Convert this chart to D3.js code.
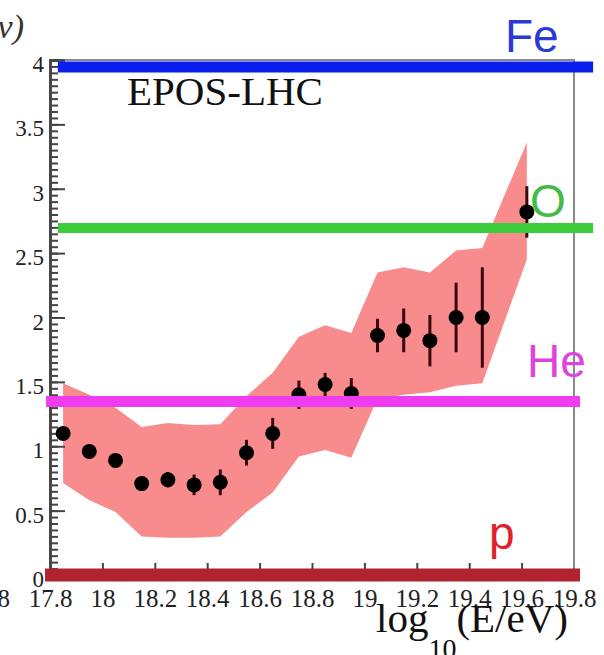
<!DOCTYPE html>
<html>
<head>
<meta charset="utf-8">
<script src="https://cdn.jsdelivr.net/npm/d3@7"></script>
<style>
  html, body { margin: 0; padding: 0; background: #fff; }
  svg { display: block; }
</style>
</head>
<body>
<svg id="chart" width="604" height="655"></svg>
<script>
// log10(E/eV) bin centres
const energy = [17.85, 17.95, 18.05, 18.15, 18.25, 18.35, 18.45, 18.55, 18.65,
                18.75, 18.85, 18.95, 19.05, 19.15, 19.25, 19.35, 19.45, 19.62];
// mean lnA per bin (EPOS-LHC) and statistical error
const lnA = [1.10, 0.96, 0.89, 0.71, 0.74, 0.70, 0.72, 0.95, 1.10,
             1.40, 1.48, 1.41, 1.86, 1.90, 1.82, 2.00, 2.00, 2.82];
const lnAErr = [0.04, 0.04, 0.04, 0.05, 0.06, 0.08, 0.10, 0.10, 0.12,
                0.11, 0.09, 0.12, 0.13, 0.17, 0.20, 0.27, 0.39, 0.20];
// systematic band
const bandHigh = [1.49, 1.40, 1.30, 1.15, 1.18, 1.165, 1.17, 1.39, 1.57,
                  1.85, 1.94, 1.88, 2.35, 2.39, 2.35, 2.52, 2.54, 3.36];
const bandLow = [0.715, 0.58, 0.49, 0.30, 0.29, 0.29, 0.30, 0.49, 0.64,
                 0.92, 0.97, 0.91, 1.37, 1.40, 1.42, 1.47, 1.49, 2.45];

// pure-composition reference lines
const elements = ["Fe", "O", "He", "p"];
const elementLnA = [3.946, 2.695, 1.348, 0.0];
const elementFrom = [17.83, 17.83, 17.785, 17.781];
const elementTo = [19.873, 19.873, 19.823, 19.823];

// axis ticks
const xTicks = [17.8, 18.0, 18.2, 18.4, 18.6, 18.8, 19.0, 19.2, 19.4, 19.6, 19.8];
const yTicks = [0, 0.5, 1, 1.5, 2, 2.5, 3, 3.5, 4];
const yMinorTicks = d3.range(0, 81).map(i => i * 0.05);

const SERIF = '"Liberation Serif"';
const SANS = '"Liberation Sans"';

const svg = d3.select("#chart");
const x = d3.scaleLinear().domain([17.8, 19.8]).range([50, 574]);
const y = d3.scaleLinear().domain([0, 4]).range([575, 60]);

const lineColor = { Fe: "#0b1ef0", O: "#3ccc3c", He: "#ee3cee", p: "#b0232f" };
const lineWidth = { Fe: 11, O: 10, He: 11, p: 13 };
const textColor = { Fe: "#2a3ad8", O: "#44bb44", He: "#dd44dd", p: "#e0202a" };

// systematic band
const rows = energy.map((e, i) => ({ e, hi: bandHigh[i], lo: bandLow[i] }));
svg.append("path")
  .datum(rows)
  .attr("fill", "#f88c8c")
  .attr("d", d3.area().x(d => x(d.e)).y0(d => y(d.lo)).y1(d => y(d.hi)));

// frame
svg.append("rect")
  .attr("x", x(17.8)).attr("y", y(4))
  .attr("width", x(19.8) - x(17.8)).attr("height", y(0) - y(4))
  .attr("fill", "none").attr("stroke", "#8a8a8a").attr("stroke-width", 2);

// y axis: inward minor and major ticks
const yMinor = svg.append("g").attr("transform", `translate(${x(17.8)},0)`)
  .call(d3.axisRight(y).tickValues(yMinorTicks).tickSize(8).tickFormat(""));
const yMajor = svg.append("g").attr("transform", `translate(${x(17.8)},0)`)
  .call(d3.axisRight(y).tickValues(yTicks).tickSize(15).tickFormat(""));
[yMinor, yMajor].forEach(g => {
  g.selectAll("line").attr("stroke", "#444").attr("stroke-width", 2);
  g.select(".domain").attr("stroke", "#444").attr("stroke-width", 2.5);
});
const yLab = svg.append("g").attr("transform", `translate(${x(17.8)},0)`)
  .call(d3.axisLeft(y).tickValues(yTicks).tickSize(0).tickPadding(6).tickFormat(d => String(d)));
yLab.select(".domain").remove();
yLab.selectAll("text").style("font-family", SERIF)
  .style("font-size", "23px").attr("fill", "#222").attr("dy", "0.5em");

// x axis: upward ticks and labels
const xIn = svg.append("g").attr("transform", `translate(0,${y(0)})`)
  .call(d3.axisTop(x).tickValues(xTicks.slice(1, -1)).tickSize(12).tickFormat(""));
xIn.select(".domain").remove();
xIn.selectAll("line").attr("stroke", "#444").attr("stroke-width", 2);
const xLab = svg.append("g").attr("transform", `translate(0,${y(0)})`)
  .call(d3.axisBottom(x).tickValues(xTicks).tickSize(0).tickPadding(14)
    .tickFormat(d => String(+d.toFixed(1))));
xLab.select(".domain").remove();
xLab.selectAll("text").style("font-family", SERIF)
  .style("font-size", "25px").attr("fill", "#222");

// neighbouring panel label at the left edge
svg.append("text").attr("x", 10).attr("y", 607).attr("text-anchor", "end")
  .style("font-family", SERIF).style("font-size", "25px").attr("fill", "#222")
  .text("19.8");
svg.append("text").attr("x", 24).attr("y", 38).attr("text-anchor", "end")
  .style("font-family", SERIF).style("font-style", "italic").style("font-size", "34px")
  .attr("fill", "#333")
  .text("v)");

// axis title
const title = svg.append("text").attr("x", 376).attr("y", 632)
  .style("font-family", SERIF).style("font-size", "41px").attr("fill", "#111");
title.append("tspan").text("log");
title.append("tspan").style("font-size", "28px").attr("dy", 26).text("10");
title.append("tspan").attr("dy", -26).text("(E/eV)");

// data: error bars and markers
const pts = energy.map((e, i) => ({ e, v: lnA[i], err: lnAErr[i] }));
svg.append("g").selectAll("line").data(pts).join("line")
  .attr("x1", d => x(d.e)).attr("x2", d => x(d.e))
  .attr("y1", d => y(d.v - d.err)).attr("y2", d => y(d.v + d.err))
  .attr("stroke", "#3a0610").attr("stroke-width", 3);
svg.append("g").selectAll("circle").data(pts).join("circle")
  .attr("cx", d => x(d.e)).attr("cy", d => y(d.v)).attr("r", 7.5)
  .attr("fill", "#000");

// composition lines
const comp = elements.map((name, i) => ({ name, v: elementLnA[i], a: elementFrom[i], b: elementTo[i] }));
svg.append("g").selectAll("line").data(comp).join("line")
  .attr("x1", d => x(d.a)).attr("x2", d => x(d.b))
  .attr("y1", d => y(d.v)).attr("y2", d => y(d.v))
  .attr("stroke", d => lineColor[d.name]).attr("stroke-width", d => lineWidth[d.name]);

// composition labels
const labelPos = { Fe: [505, 52], O: [530, 217], He: [527, 377], p: [489, 549] };
svg.append("g").selectAll("text").data(comp).join("text")
  .attr("x", d => labelPos[d.name][0]).attr("y", d => labelPos[d.name][1])
  .style("font-family", SANS).style("font-size", "46px")
  .attr("fill", d => textColor[d.name])
  .text(d => d.name);

// model name
svg.append("text").attr("x", 127).attr("y", 105)
  .style("font-family", SERIF).style("font-size", "41px").attr("fill", "#111")
  .text("EPOS-LHC");
</script>
</body>
</html>
